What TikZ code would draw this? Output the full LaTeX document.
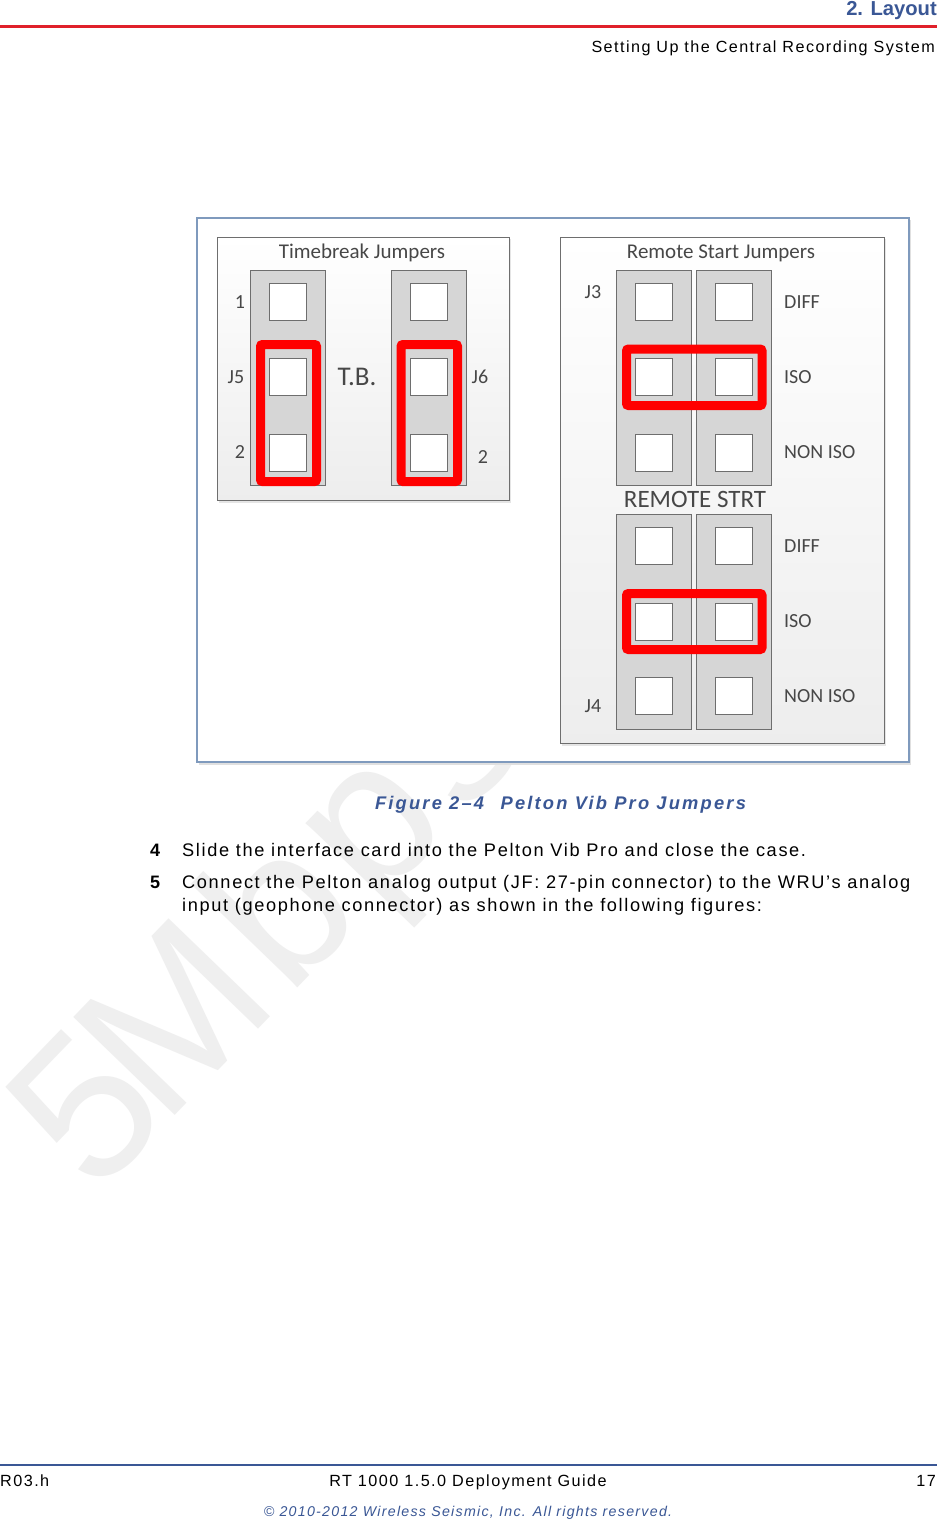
\documentclass[tikz,border=0pt]{standalone}
\usepackage{fontspec}
\setmainfont{Liberation Sans}
\newfontfamily\spacedfont[LetterSpace=9]{Liberation Sans}
\newfontfamily\captionfont[LetterSpace=12]{Liberation Sans}
\newfontfamily\jumperfont{Carlito}
\definecolor{titleB}{HTML}{3A5795}
\definecolor{ruleR}{HTML}{E0202A}
\definecolor{frameB}{HTML}{7F9ABD}
\definecolor{stripGray}{HTML}{D6D6D6}
\definecolor{edgeGray}{HTML}{6E6E6E}
\definecolor{markGray}{HTML}{EFEFEF}
\newcommand{\pxfont}[1]{\fontsize{#1}{#1}\selectfont}
\tikzset{
  panelbox/.style={draw=edgeGray, line width=1pt, top color=white, bottom color=black!7},
  stripbox/.style={draw=edgeGray, fill=stripGray, line width=1pt},
  holebox/.style={draw=edgeGray, fill=white, line width=1pt},
  jumperloop/.style={draw=red, line width=9pt, rounded corners=2pt},
  lab/.style={inner sep=0pt, text=black!72, font=\jumperfont\pxfont{#1}},
  lab/.default=20,
  bodytext/.style={anchor=base west, inner sep=0pt, font=\spacedfont\pxfont{18.2}},
  foottext/.style={anchor=base, inner sep=0pt, font=\spacedfont\pxfont{16.2}}
}

\begin{document}
\begin{tikzpicture}[x=1pt, y=-1pt]
  \useasboundingbox (0,0) rectangle (937,1519);
  \fill[white] (0,0) rectangle (937,1519);

  % watermark, the figure covers most of it
  \node[rotate=46, anchor=base west, inner sep=0pt, text=markGray, font=\pxfont{205}] (markword) at (95,1198) {5\kern-16pt M\kern10pt b\kern10pt p\kern12pt s};

  % page head
  \node[anchor=base east, inner sep=0pt, text=titleB, font=\bfseries\pxfont{20.2}] (chapter) at (937,15) {2. Layout};
  \fill[ruleR] (0,24.5) rectangle (937,27.5);
  \node[anchor=base east, inner sep=0pt, font=\spacedfont\pxfont{16.15}] (section) at (935,52) {Setting Up the Central Recording System};

  % figure frame and the two panels
  \fill[black!12] (199,220) rectangle (911,765);
  \draw[frameB, fill=white, line width=1.5pt] (197,218) rectangle (909,762);
  \fill[black!10] (219,239) rectangle (511,503);
  \fill[black!10] (562,239) rectangle (886,746);
  \draw[panelbox] (217,237) rectangle (509,500);
  \draw[panelbox] (560,237) rectangle (884,743);

  % gray strips
  \foreach \x/\y in {250/270,391/270,616/270,696/270,616/514,696/514}{
    \draw[stripbox] (\x,\y) rectangle (\x+75.5,\y+215.5);
  }

  % holes of the strips
  \foreach \x in {269,410}{
    \foreach \y in {302,377,453}{
      \draw[holebox] (\x,\y-19) rectangle (\x+37.5,\y+18.5);
    }
  }
  \foreach \x in {635,715}{
    \foreach \y in {302,377,453,546,622,696}{
      \draw[holebox] (\x,\y-19) rectangle (\x+37.5,\y+18.5);
    }
  }

  % red jumpers
  \draw[jumperloop] (260.5,344.5) rectangle (316.5,481.5);
  \draw[jumperloop] (401,344.5) rectangle (457.5,481.5);
  \draw[jumperloop] (626.5,349) rectangle (762,405.5);
  \draw[jumperloop] (626.5,593.5) rectangle (762,649.5);

  % labels of the left panel
  \node[lab=21] (tbtitle) at (362,253) {Timebreak Jumpers};
  \node[lab] (pinA) at (240,302) {1};
  \node[lab] (jfive) at (236,377) {J5};
  \node[lab] (pinB) at (240,452) {2};
  \node[lab=27] (tbname) at (357,377) {T.B.};
  \node[lab] (jsix) at (480,377) {J6};
  \node[lab] (pinC) at (483,457) {2};

  % labels of the right panel
  \node[lab=21] (rstitle) at (721,253) {Remote Start Jumpers};
  \node[lab] (jthree) at (593,292) {J3};
  \node[lab] (jfour) at (593,706) {J4};
  \node[lab=25] (rsname) at (695,499) {REMOTE STRT};
  \foreach \y/\top in {302/a,546/b}{
    \node[lab, anchor=west] (diff\top) at (784,\y) {DIFF};
    \node[lab, anchor=west] (iso\top) at (784,\y+75) {ISO};
    \node[lab, anchor=west] (noniso\top) at (784,\y+150) {NON ISO};
  }

  % caption and steps
  \node[anchor=base, inner sep=0pt, text=titleB, font=\captionfont\bfseries\itshape\pxfont{18.3}] (caption) at (560.5,809) {Figure 2–4\hspace{0.9em}Pelton Vib Pro Jumpers};
  \node[bodytext, font=\bfseries\pxfont{18}] (numfour) at (150,856) {4};
  \node[bodytext] (stepfour) at (182,856) {Slide the interface card into the Pelton Vib Pro and close the case.};
  \node[bodytext, font=\bfseries\pxfont{18}] (numfive) at (150,888) {5};
  \node[bodytext] (stepfive) at (182,888) {Connect the Pelton analog output (JF: 27-pin connector) to the WRU’s analog};
  \node[bodytext] (stepmore) at (182,911) {input (geophone connector) as shown in the following figures:};

  % page foot
  \fill[titleB] (0,1464) rectangle (937,1466);
  \node[foottext, anchor=base west] (revision) at (0,1486) {R03.h};
  \node[foottext] (guide) at (468,1486) {RT 1000 1.5.0 Deployment Guide};
  \node[foottext, anchor=base east] (pagenum) at (936,1486) {17};
  \node[foottext, text=titleB, font=\spacedfont\itshape\pxfont{14.2}] (rights) at (468,1516) {© 2010-2012 Wireless Seismic, Inc. All rights reserved.};
\end{tikzpicture}
\end{document}
